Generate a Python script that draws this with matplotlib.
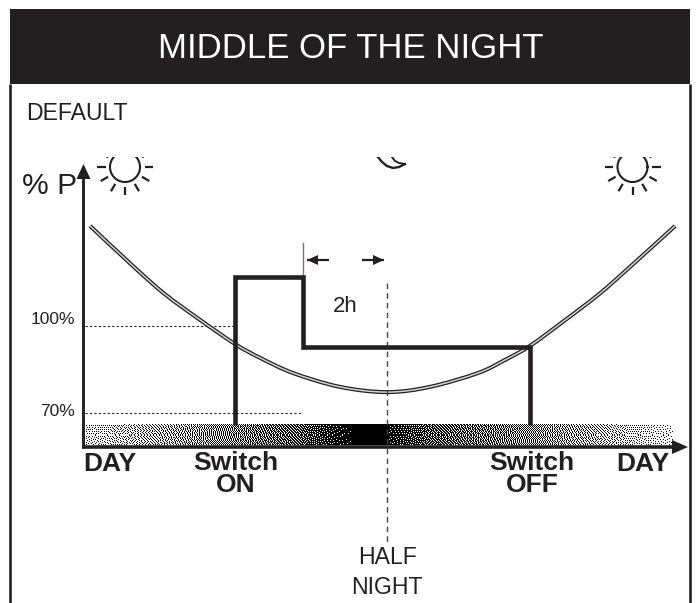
# Night dimming profile, "middle of the night" mode
import numpy
import matplotlib
matplotlib.use('Agg')
import matplotlib.pyplot as plt
from matplotlib.path import Path
from matplotlib.patches import PathPatch, Polygon, Rectangle

plt.rcParams['font.family'] = ['Liberation Sans', 'DejaVu Sans']

INK = '#231f20'

# hours from half night / percent power
curve_hours = [-7.07, -6.05, -5.29, -4.45, -3.62, -3.02, -2.24, -1.12, 0.0,
               1.02, 2.17, 2.81, 3.40, 4.21, 5.05, 5.81, 6.86]
curve_power = [134.4, 120.6, 110.9, 102.0, 93.7, 88.9, 83.7, 78.9, 77.1,
               78.9, 83.7, 88.2, 93.0, 101.6, 110.9, 120.6, 134.4]
step_hours = [-3.62, -3.62, -1.99, -1.99, 3.40, 3.40]
step_power = [65.6, 116.8, 116.8, 92.7, 92.7, 65.6]
guide_power = [100, 70]
guide_end_hours = [-3.66, -2.05]
guide_labels = ['100%', '70%']
guide_label_y = [320, 412]

# night shading along the time axis
shade_hours = [-7.2, -5.4, -3.62, -2.05, -0.71, 0.0, 0.03, 1.02, 3.4, 5.07, 6.8]
shade_level = [0.2, 0.36, 0.53, 0.68, 1.0, 1.0, 0.88, 0.68, 0.5, 0.34, 0.14]


def dither(levels):
    # error diffusion so the strip is stippled like the original print
    img = levels.copy()
    h, w = img.shape
    for r in range(h):
        for c in range(w):
            old = img[r, c]
            new = 1.0 if old >= 0.5 else 0.0
            img[r, c] = new
            err = old - new
            if c + 1 < w:
                img[r, c + 1] += err * 7 / 16
            if r + 1 < h:
                if c > 0:
                    img[r + 1, c - 1] += err * 3 / 16
                img[r + 1, c] += err * 5 / 16
                if c + 1 < w:
                    img[r + 1, c + 1] += err * 1 / 16
    return img


def smooth_path(xs, ys):
    # Catmull-Rom through the read points, as bezier segments
    pts = list(zip(xs, ys))
    verts = [pts[0]]
    codes = [Path.MOVETO]
    for i in range(len(pts) - 1):
        p0 = pts[max(i - 1, 0)]
        p1 = pts[i]
        p2 = pts[i + 1]
        p3 = pts[min(i + 2, len(pts) - 1)]
        verts.append((p1[0] + (p2[0] - p0[0]) / 6, p1[1] + (p2[1] - p0[1]) / 6))
        verts.append((p2[0] - (p3[0] - p1[0]) / 6, p2[1] - (p3[1] - p1[1]) / 6))
        verts.append(p2)
        codes += [Path.CURVE4] * 3
    return Path(verts, codes)


def draw_sun(deco, cx, cy, clip):
    r = 15
    a = numpy.radians(numpy.arange(0, 361, 5))
    arc, = deco.plot(cx + r * numpy.cos(a), cy + r * numpy.sin(a), color=INK, lw=1.5)
    arc.set_clip_path(clip)
    for ang in numpy.radians(numpy.arange(0, 360, 30)):
        ray, = deco.plot([cx + 19.5 * numpy.cos(ang), cx + 28 * numpy.cos(ang)],
                         [cy + 19.5 * numpy.sin(ang), cy + 28 * numpy.sin(ang)],
                         color=INK, lw=1.6, solid_capstyle='butt')
        ray.set_clip_path(clip)


def main():
    fig = plt.figure(figsize=(6.98, 6.03), dpi=100, facecolor='white')

    # decoration layer in picture pixels
    deco = fig.add_axes([0, 0, 1, 1], zorder=3)
    deco.set_xlim(0, 698)
    deco.set_ylim(603, 0)
    deco.axis('off')
    deco.patch.set_alpha(0)

    # chart layer: hours and percent, half night at px 387, 70% at px 412.7
    ax = fig.add_axes([0, 0, 1, 1], zorder=2)
    ax.axis('off')
    hour_px = 42.0
    pct_px = 2.9

    levels = numpy.interp((numpy.arange(588) + 0.5) / 588 * 14.0 - 7.2, shade_hours, shade_level)
    strip = dither(numpy.tile(levels, (20, 1)))
    ax.imshow(strip, cmap='gray_r', vmin=0, vmax=1, aspect='auto', interpolation='nearest',
              extent=(-7.2, 6.8, 58.9, 65.8), zorder=1)

    ax.set_xlim(-387 / hour_px, (698 - 387) / hour_px)
    ax.set_ylim(70 - (603 - 412.7) / pct_px, 70 + 412.7 / pct_px)

    curve = smooth_path(curve_hours, curve_power)
    ax.add_patch(PathPatch(curve, fill=False, edgecolor=INK, lw=2.9, zorder=2))
    ax.add_patch(PathPatch(curve, fill=False, edgecolor='#d4d4d4', lw=1.1, zorder=2.1))

    for level, end in zip(guide_power, guide_end_hours):
        ax.plot([-7.2, end], [level, level], color=INK, lw=0.8, ls=(0, (2, 2)), zorder=2)

    ax.plot(step_hours, step_power, color=INK, lw=3.3, solid_joinstyle='miter',
            solid_capstyle='butt', zorder=3)

    # half night marker and the 2 hour span
    ax.plot([0, 0], [69.8 + (412.7 - 282) / pct_px, 70 + (412.7 - 545) / pct_px], color='#444444',
            lw=1.0, ls=(0, (4, 3)), zorder=2.5)
    ax.plot([-1.99, -1.99], [116.8, 128.5], color='#777777', lw=1.0, zorder=2)

    # frame and title bar
    deco.add_patch(Rectangle((10, 9), 680, 75, facecolor=INK, edgecolor='none'))
    deco.plot([10, 10], [84, 603], color=INK, lw=1.9, solid_capstyle='butt')
    deco.plot([690, 690], [84, 603], color=INK, lw=1.9, solid_capstyle='butt')
    deco.text(351, 49, 'MIDDLE OF THE NIGHT', color='white', fontsize=25, ha='center', va='center')
    deco.text(26, 113, 'DEFAULT', color=INK, fontsize=16.6, ha='left', va='center')

    # axes with their arrow heads
    deco.plot([83, 83], [170, 448], color=INK, lw=2.1, solid_capstyle='butt')
    deco.plot([82, 675], [446.5, 446.5], color=INK, lw=2.6, solid_capstyle='butt')
    deco.add_patch(Polygon([(83.5, 164), (76.5, 179), (90.5, 179)], facecolor=INK, edgecolor='none'))
    deco.add_patch(Polygon([(688, 447), (672, 440), (672, 454)], facecolor=INK, edgecolor='none'))

    for x_tip, x_tail in [(307, 329), (384, 362)]:
        deco.plot([x_tip, x_tail], [260, 260], color=INK, lw=1.6, solid_capstyle='butt')
        step = 11 if x_tail > x_tip else -11
        deco.add_patch(Polygon([(x_tip, 260), (x_tip + step, 255), (x_tip + step, 265)],
                               facecolor=INK, edgecolor='none'))

    # suns and moon are cut off at the top in the original
    clip = Rectangle((0, 157), 698, 446, transform=deco.transData)
    draw_sun(deco, 125, 167, clip)
    draw_sun(deco, 632.5, 167, clip)
    outer, = deco.plot([378, 382, 387, 393, 399, 405], [157, 162, 166, 168, 167, 164], color=INK, lw=1.7)
    inner, = deco.plot([392, 395, 399, 405], [157, 161, 163, 164], color=INK, lw=1.4)
    outer.set_clip_path(clip)
    inner.set_clip_path(clip)

    # labels
    deco.text(22, 186, '% P', color=INK, fontsize=21.6, ha='left', va='center')
    for label, y in zip(guide_labels, guide_label_y):
        deco.text(75, y, label, color=INK, fontsize=12.5, ha='right', va='center')
    deco.text(345.5, 306, '2h', color=INK, fontsize=16, ha='center', va='center')
    deco.text(387, 557, 'HALF', color=INK, fontsize=16.6, ha='center', va='center')
    deco.text(387, 587, 'NIGHT', color=INK, fontsize=16.6, ha='center', va='center')

    bold = dict(color=INK, fontsize=19, fontweight='bold', ha='center', va='center')
    deco.text(109.5, 464, 'DAY', **bold)
    deco.text(642.5, 464, 'DAY', **bold)
    deco.text(235.5, 474, 'Switch\nON', linespacing=0.9, multialignment='center', **bold)
    deco.text(532, 474, 'Switch\nOFF', linespacing=0.9, multialignment='center', **bold)

    fig.savefig('out.png', dpi=100, facecolor='white')


if __name__ == "__main__":
    main()
